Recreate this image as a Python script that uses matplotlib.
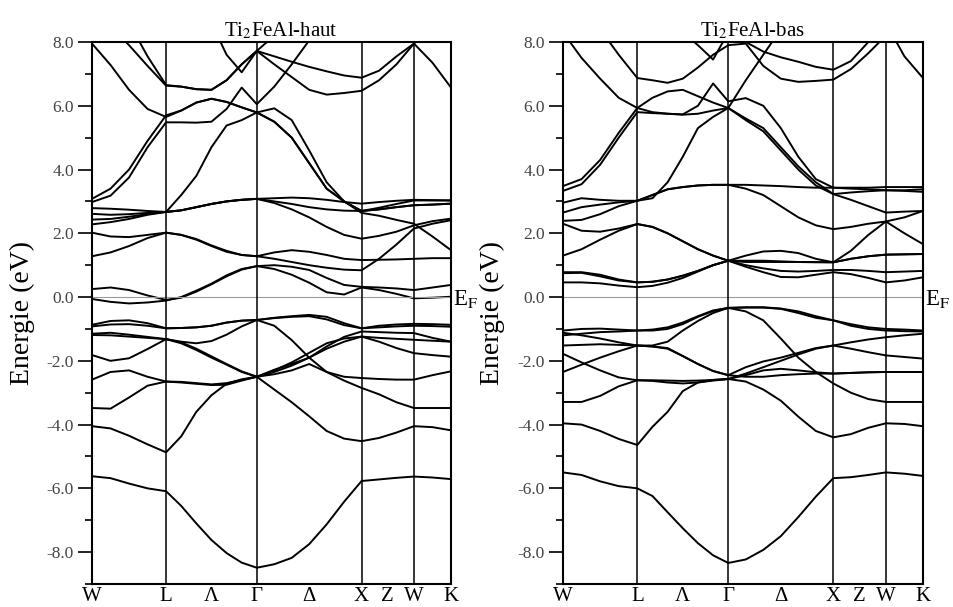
import numpy as np
import matplotlib.pyplot as plt
from matplotlib.ticker import MultipleLocator
from matplotlib.transforms import blended_transform_factory

# high-symmetry points (cumulative path length, fcc, units of 2pi/a)
kpath_names = ['W', 'L', 'Γ', 'X', 'W', 'K']
kpath_pos = [0.0, 0.7071, 1.5731, 2.5731, 3.0731, 3.4267]
# samples per segment (W-L, L-G, G-X, X-W, W-K)
seg_samples = [4, 6, 6, 3, 2]

# ---- Ti2FeAl-haut (spin up), energies in eV at the sampled k points ----
up_v1 = [-5.62, -5.68, -5.85, -6.00, -6.09, -6.55, -7.10, -7.62, -8.03, -8.33, -8.49, -8.38, -8.18, -7.75, -7.13, -6.42, -5.77, -5.72, -5.67, -5.63, -5.66, -5.71]
up_v2 = [-4.05, -4.12, -4.35, -4.62, -4.87, -4.37, -3.60, -3.08, -2.72, -2.58, -2.50, -2.90, -3.30, -3.74, -4.20, -4.44, -4.52, -4.42, -4.25, -4.05, -4.08, -4.18]
up_v3 = [-3.48, -3.50, -3.15, -2.78, -2.65, -2.68, -2.72, -2.76, -2.75, -2.62, -2.50, -2.42, -2.30, -2.10, -2.35, -2.62, -2.85, -3.05, -3.30, -3.48, -3.48, -3.48]
up_v4 = [-2.59, -2.35, -2.30, -2.50, -2.65, -2.66, -2.70, -2.74, -2.70, -2.60, -2.50, -2.28, -2.10, -1.90, -1.55, -1.25, -1.08, -1.10, -1.12, -1.13, -1.28, -1.40]
up_v5 = [-1.82, -2.00, -1.92, -1.63, -1.32, -1.45, -1.66, -1.90, -2.12, -2.35, -2.50, -2.35, -2.15, -1.90, -1.62, -1.40, -1.24, -1.40, -1.60, -1.76, -1.82, -1.87]
up_v6 = [-1.19, -1.20, -1.24, -1.28, -1.32, -1.40, -1.45, -1.38, -1.18, -0.92, -0.72, -0.90, -1.35, -1.90, -2.35, -2.50, -2.54, -2.57, -2.59, -2.59, -2.45, -2.33]
up_v7 = [-1.15, -1.12, -1.18, -1.25, -1.32, -1.42, -1.62, -1.86, -2.10, -2.33, -2.50, -2.30, -2.05, -1.75, -1.45, -1.30, -1.24, -1.28, -1.31, -1.34, -1.37, -1.40]
up_v8 = [-0.87, -0.75, -0.73, -0.82, -0.98, -0.97, -0.95, -0.90, -0.80, -0.74, -0.72, -0.65, -0.60, -0.56, -0.62, -0.82, -0.98, -0.90, -0.86, -0.84, -0.85, -0.87]
up_v9 = [-0.92, -0.86, -0.85, -0.90, -0.98, -0.97, -0.95, -0.90, -0.80, -0.74, -0.72, -0.66, -0.62, -0.60, -0.70, -0.88, -0.98, -0.95, -0.92, -0.90, -0.91, -0.93]
up_c1 = [-0.06, -0.15, -0.20, -0.17, -0.11, 0.00, 0.20, 0.42, 0.68, 0.88, 0.97, 0.88, 0.70, 0.45, 0.15, 0.08, 0.30, 0.22, 0.10, -0.04, -0.02, 0.01]
up_c2 = [0.25, 0.30, 0.22, 0.05, -0.09, -0.02, 0.17, 0.40, 0.65, 0.86, 0.97, 1.00, 0.95, 0.85, 0.60, 0.38, 0.32, 0.30, 0.27, 0.22, 0.30, 0.38]
up_c3 = [1.28, 1.40, 1.60, 1.85, 2.02, 1.95, 1.80, 1.60, 1.42, 1.32, 1.28, 1.40, 1.47, 1.42, 1.32, 1.20, 1.16, 1.17, 1.18, 1.20, 1.22, 1.22]
up_c4 = [2.02, 1.90, 1.88, 1.95, 2.02, 1.95, 1.82, 1.62, 1.45, 1.32, 1.28, 1.20, 1.10, 1.00, 0.92, 0.86, 0.84, 1.20, 1.65, 2.15, 2.30, 2.41]
up_c5 = [2.28, 2.35, 2.45, 2.58, 2.67, 2.72, 2.82, 2.92, 3.00, 3.05, 3.08, 3.10, 3.12, 3.10, 3.05, 2.98, 2.93, 2.98, 3.02, 3.05, 3.04, 3.03]
up_c6 = [2.43, 2.45, 2.52, 2.60, 2.67, 2.72, 2.82, 2.92, 3.00, 3.05, 3.08, 3.00, 2.92, 2.82, 2.75, 2.71, 2.70, 2.75, 2.82, 2.88, 2.90, 2.93]
up_c7 = [2.61, 2.58, 2.60, 2.64, 2.67, 2.72, 2.82, 2.92, 3.00, 3.05, 3.08, 2.95, 2.75, 2.50, 2.20, 1.95, 1.83, 1.92, 2.05, 2.25, 2.38, 2.46]
up_c8 = [2.79, 2.77, 2.74, 2.70, 2.67, 3.20, 3.80, 4.70, 5.38, 5.55, 5.79, 5.92, 5.55, 4.60, 3.60, 3.00, 2.64, 2.55, 2.42, 2.30, 1.90, 1.47]
up_c9 = [2.98, 3.18, 3.75, 4.70, 5.48, 5.48, 5.47, 5.50, 5.90, 6.57, 6.05, 6.60, 7.30, 8.05, 8.60, 9.00, 9.20, 9.20, 9.20, 9.20, 9.20, 9.20]
up_c10 = [3.08, 3.40, 4.00, 4.90, 5.70, 5.85, 6.10, 6.22, 6.12, 5.95, 5.79, 5.50, 5.00, 4.20, 3.40, 3.00, 2.70, 2.80, 2.92, 3.03, 3.03, 3.03]
up_c11 = [7.95, 7.28, 6.50, 5.90, 5.65, 5.85, 6.10, 6.22, 6.12, 5.95, 5.79, 5.50, 5.00, 4.20, 3.40, 3.00, 2.70, 2.75, 2.82, 2.88, 2.90, 2.93]
up_c12 = [9.00, 8.50, 7.90, 7.25, 6.63, 6.60, 6.52, 6.50, 6.80, 7.30, 7.72, 7.55, 7.38, 7.22, 7.08, 6.95, 6.88, 7.10, 7.55, 7.95, 7.35, 6.57]
up_c13 = [10.0, 9.40, 8.60, 7.55, 6.65, 6.60, 6.52, 6.50, 6.80, 7.30, 7.72, 7.30, 6.90, 6.50, 6.35, 6.40, 6.47, 6.80, 7.30, 7.95, 8.50, 9.00]
up_c14 = [10.0, 10.0, 10.0, 10.0, 10.0, 9.50, 9.00, 8.60, 7.60, 7.05, 7.72, 8.20, 8.80, 9.20, 9.20, 9.20, 9.20, 9.20, 9.20, 9.20, 9.20, 9.20]

# ---- Ti2FeAl-bas (spin down) ----
dn_v1 = [-5.50, -5.58, -5.78, -5.93, -6.00, -6.24, -6.75, -7.25, -7.72, -8.10, -8.34, -8.23, -7.93, -7.50, -6.90, -6.26, -5.68, -5.65, -5.58, -5.50, -5.54, -5.61]
dn_v2 = [-3.96, -4.00, -4.20, -4.45, -4.64, -4.07, -3.60, -2.95, -2.68, -2.60, -2.57, -2.65, -2.90, -3.25, -3.75, -4.20, -4.40, -4.30, -4.10, -3.96, -3.98, -4.05]
dn_v3 = [-3.29, -3.29, -3.10, -2.80, -2.61, -2.63, -2.68, -2.71, -2.68, -2.62, -2.57, -2.45, -2.30, -2.25, -2.30, -2.36, -2.40, -2.38, -2.36, -2.35, -2.35, -2.35]
dn_v4 = [-2.35, -2.12, -1.90, -1.70, -1.52, -1.55, -1.60, -1.85, -2.10, -2.32, -2.45, -2.20, -2.02, -1.90, -1.75, -1.60, -1.52, -1.42, -1.33, -1.26, -1.20, -1.15]
dn_v5 = [-1.78, -2.05, -2.30, -2.52, -2.61, -2.61, -2.62, -2.63, -2.62, -2.60, -2.57, -2.40, -2.20, -2.00, -1.80, -1.62, -1.52, -1.62, -1.73, -1.83, -1.88, -1.93]
dn_v6 = [-1.52, -1.50, -1.48, -1.50, -1.52, -1.52, -1.40, -1.05, -0.75, -0.50, -0.34, -0.45, -0.73, -1.30, -1.90, -2.35, -2.71, -3.00, -3.20, -3.29, -3.29, -3.29]
dn_v7 = [-1.20, -1.15, -1.10, -1.08, -1.05, -1.02, -0.95, -0.80, -0.60, -0.42, -0.34, -0.32, -0.32, -0.36, -0.45, -0.60, -0.73, -0.90, -1.00, -1.05, -1.07, -1.08]
dn_v8 = [-1.05, -1.00, -0.99, -1.02, -1.05, -1.05, -1.00, -0.85, -0.62, -0.44, -0.34, -0.33, -0.33, -0.37, -0.50, -0.65, -0.73, -0.85, -0.95, -1.00, -1.02, -1.05]
dn_v9 = [-1.12, -1.20, -1.30, -1.42, -1.52, -1.55, -1.62, -1.85, -2.10, -2.32, -2.45, -2.50, -2.50, -2.45, -2.42, -2.40, -2.40, -2.38, -2.36, -2.35, -2.35, -2.35]
dn_c1 = [0.46, 0.46, 0.43, 0.36, 0.31, 0.35, 0.45, 0.60, 0.80, 1.00, 1.14, 0.95, 0.78, 0.63, 0.62, 0.70, 0.78, 0.72, 0.60, 0.46, 0.52, 0.62]
dn_c2 = [0.75, 0.76, 0.65, 0.52, 0.46, 0.48, 0.55, 0.67, 0.82, 1.00, 1.14, 1.00, 0.90, 0.82, 0.80, 0.82, 0.85, 0.85, 0.82, 0.78, 0.80, 0.82]
dn_c3 = [0.78, 0.78, 0.70, 0.55, 0.46, 0.48, 0.55, 0.67, 0.82, 1.00, 1.14, 1.10, 1.10, 1.10, 1.10, 1.10, 1.09, 1.20, 1.28, 1.33, 1.34, 1.35]
dn_c4 = [1.30, 1.50, 1.80, 2.08, 2.29, 2.20, 2.00, 1.75, 1.50, 1.30, 1.14, 1.30, 1.43, 1.45, 1.38, 1.20, 1.09, 1.45, 1.95, 2.37, 2.00, 1.66]
dn_c5 = [2.30, 2.08, 2.05, 2.15, 2.29, 2.20, 2.00, 1.75, 1.50, 1.30, 1.14, 1.14, 1.14, 1.12, 1.10, 1.09, 1.09, 1.20, 1.28, 1.33, 1.34, 1.35]
dn_c6 = [2.39, 2.42, 2.60, 2.85, 3.02, 3.20, 3.38, 3.45, 3.50, 3.52, 3.52, 3.52, 3.50, 3.48, 3.45, 3.43, 3.43, 3.43, 3.43, 3.45, 3.45, 3.45]
dn_c7 = [2.65, 2.82, 2.90, 2.97, 3.02, 3.20, 3.38, 3.45, 3.50, 3.52, 3.52, 3.40, 3.20, 2.85, 2.50, 2.25, 2.13, 2.20, 2.30, 2.37, 2.50, 2.70]
dn_c8 = [2.96, 3.10, 3.05, 3.02, 3.02, 3.10, 3.60, 4.40, 5.30, 5.65, 5.93, 5.55, 5.20, 4.60, 4.00, 3.50, 3.23, 3.05, 2.85, 2.65, 2.68, 2.70]
dn_c9 = [3.33, 3.54, 4.15, 5.00, 5.80, 5.77, 5.75, 5.73, 6.00, 6.70, 6.14, 6.24, 6.00, 5.30, 4.40, 3.70, 3.43, 3.40, 3.38, 3.35, 3.33, 3.30]
dn_c10 = [3.48, 3.70, 4.30, 5.15, 5.93, 6.25, 6.45, 6.50, 6.30, 6.10, 5.93, 5.60, 5.30, 4.70, 4.10, 3.60, 3.23, 3.28, 3.32, 3.35, 3.35, 3.38]
dn_c11 = [8.30, 7.50, 6.85, 6.25, 5.93, 5.80, 5.75, 5.72, 5.75, 5.85, 5.93, 6.80, 7.60, 8.40, 9.00, 9.00, 9.00, 9.00, 9.00, 9.00, 9.00, 9.00]
dn_c12 = [9.50, 9.00, 8.40, 7.60, 6.87, 6.80, 6.72, 6.85, 7.20, 7.60, 7.90, 7.95, 7.25, 6.85, 6.75, 6.78, 6.82, 7.15, 7.65, 8.20, 8.60, 9.00]
dn_c13 = [10.0, 10.0, 10.0, 10.0, 10.0, 9.50, 9.00, 8.30, 7.90, 7.45, 8.30, 8.00, 7.70, 7.52, 7.38, 7.22, 7.13, 7.40, 8.00, 8.60, 9.00, 9.00]
dn_c14 = [10.0, 10.0, 10.0, 10.0, 10.0, 10.0, 10.0, 10.0, 10.0, 10.0, 10.0, 10.0, 10.0, 10.0, 10.0, 10.0, 10.0, 9.50, 9.00, 8.60, 7.55, 6.87]

up_bands = [up_v1, up_v2, up_v3, up_v4, up_v5, up_v6, up_v7, up_v8, up_v9,
            up_c1, up_c2, up_c3, up_c4, up_c5, up_c6, up_c7, up_c8, up_c9,
            up_c10, up_c11, up_c12, up_c13, up_c14]
dn_bands = [dn_v1, dn_v2, dn_v3, dn_v4, dn_v5, dn_v6, dn_v7, dn_v8, dn_v9,
            dn_c1, dn_c2, dn_c3, dn_c4, dn_c5, dn_c6, dn_c7, dn_c8, dn_c9,
            dn_c10, dn_c11, dn_c12, dn_c13, dn_c14]

# k coordinate of every sample
kgrid = [kpath_pos[0]]
for i, n in enumerate(seg_samples):
    kgrid += list(np.linspace(kpath_pos[i], kpath_pos[i + 1], n + 1)[1:])
kgrid = np.array(kgrid)

plt.rcParams['font.family'] = 'Liberation Serif'
plt.rcParams['mathtext.fontset'] = 'stix'

fig = plt.figure(figsize=(9.54, 6.07), dpi=100)
ax_up = fig.add_axes([92 / 954, 23 / 607, 359 / 954, 542 / 607])
ax_dn = fig.add_axes([563 / 954, 23 / 607, 360 / 954, 542 / 607])

xt = [kpath_pos[0], kpath_pos[1], (kpath_pos[1] + kpath_pos[2]) / 2, kpath_pos[2],
      (kpath_pos[2] + kpath_pos[3]) / 2, kpath_pos[3], (kpath_pos[3] + kpath_pos[4]) / 2,
      kpath_pos[4], kpath_pos[5]]
xl = ['W', 'L', 'Λ', 'Γ', 'Δ', 'X', 'Z', 'W', 'K']

for ax, bands, title in [(ax_up, up_bands, 'Ti$_2$FeAl-haut'),
                         (ax_dn, dn_bands, 'Ti$_2$FeAl-bas')]:
    for b in bands:
        ax.plot(kgrid, b, color='black', lw=1.4, solid_joinstyle='round')
    ax.axhline(0, color='#9a9a9a', lw=0.8)
    for x in kpath_pos[1:-1]:
        ax.axvline(x, color='black', lw=1.1)
    ax.set_xlim(kpath_pos[0], kpath_pos[-1])
    ax.set_ylim(-9, 8)
    ax.set_yticks(np.arange(-8, 9, 2))
    ax.set_yticklabels([f'{v:.1f}' for v in np.arange(-8, 9, 2)])
    ax.yaxis.set_minor_locator(MultipleLocator(1))
    ax.tick_params(axis='y', which='major', direction='out', length=10, width=1.2,
                   labelsize=12.5, labelcolor='#444444', pad=3)
    ax.tick_params(axis='y', which='minor', direction='out', length=5, width=1.2)
    ax.set_xticks(xt)
    ax.set_xticklabels(xl, fontsize=15)
    ax.tick_params(axis='x', length=0, pad=2)
    for s in ax.spines.values():
        s.set_linewidth(1.5)
    ax.set_title(title, fontsize=15, pad=4, x=0.525)
    ax.set_ylabel('Energie (eV)', fontsize=20)
    ax.yaxis.set_label_coords(-0.16, 0.5)
    tr = blended_transform_factory(ax.transAxes, ax.transData)
    ax.text(1.005, -0.05, r'E$_\mathrm{F}$', transform=tr, fontsize=16.5,
            ha='left', va='center')

fig.savefig('out.png', dpi=100)
